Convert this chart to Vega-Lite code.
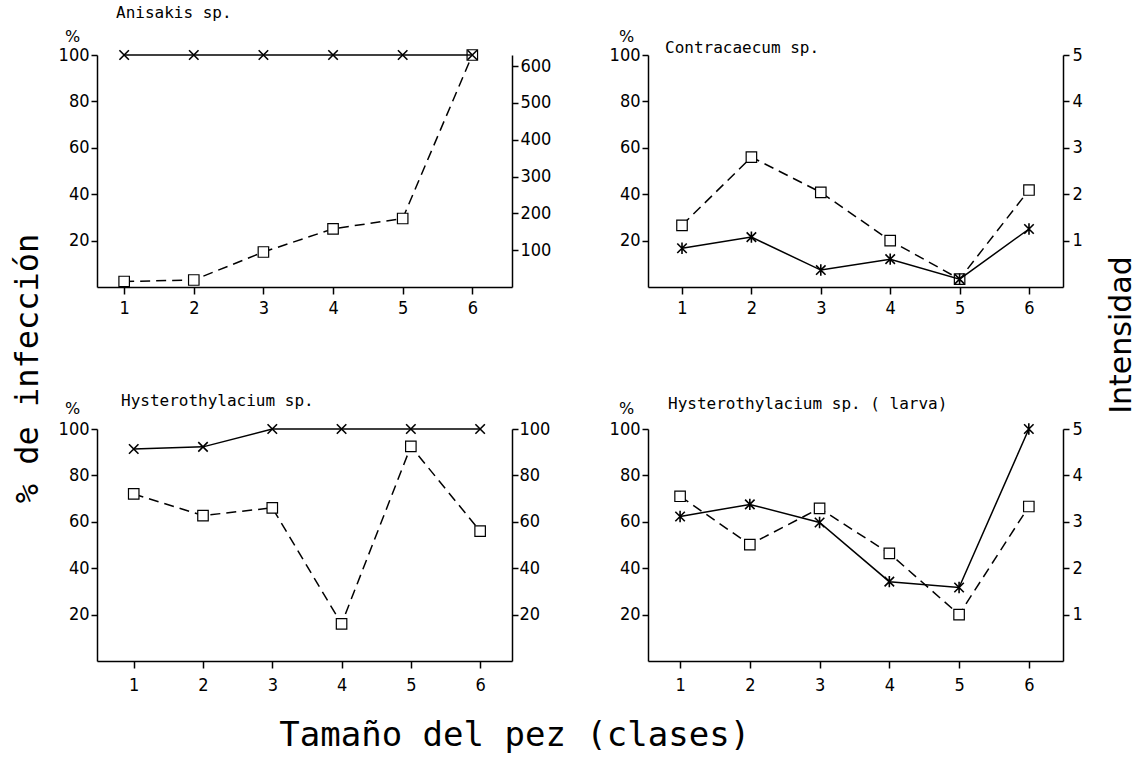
{
  "$schema": "https://vega.github.io/schema/vega-lite/v6.json",
  "background": "white",
  "padding": {"left": 12, "top": 5, "right": 5, "bottom": 3},
  "title": {"text": "Tamaño del  pez (clases)", "orient": "bottom", "anchor": "middle", "font": "DejaVu Sans Mono", "fontSize": 34, "fontWeight": "normal", "color": "black", "offset": 25, "dx": -60},
  "spacing": 58,
  "hconcat": [
    {
      "title": {"text": "% de infección", "orient": "left", "anchor": "middle", "font": "DejaVu Sans Mono", "fontSize": 32, "fontWeight": "normal", "color": "black", "offset": 13, "dx": -19},
      "spacing": 142,
      "bounds": "flush",
      "vconcat": [
        {
          "width": 415, "height": 232,
          "title": {"text": "Anisakis  sp.", "anchor": "start", "frame": "group", "dx": 19, "offset": 7, "font": "DejaVu Sans Mono", "fontSize": 16, "fontWeight": "normal", "color": "black"},
          "data": {"values": [
            {"clase": 1, "pct": 100, "intens": 15},
            {"clase": 2, "pct": 100, "intens": 19},
            {"clase": 3, "pct": 100, "intens": 95},
            {"clase": 4, "pct": 100, "intens": 158},
            {"clase": 5, "pct": 100, "intens": 186},
            {"clase": 6, "pct": 100, "intens": 630}
          ]},
          "encoding": {"x": {"field": "clase", "type": "quantitative", "scale": {"domain": [0.61, 6.57], "nice": false, "zero": false}, "axis": {"values": [1, 2, 3, 4, 5, 6], "format": "d", "title": null}}},
          "layer": [
            {
              "encoding": {"y": {"field": "intens", "type": "quantitative", "scale": {"domain": [0, 630], "nice": false}, "axis": {"orient": "right", "values": [100, 200, 300, 400, 500, 600], "title": null, "labelPadding": 2}}},
              "layer": [
                {"mark": {"type": "line", "color": "black", "strokeWidth": 1.5, "strokeDash": [10, 6]}},
                {"mark": {"type": "point", "shape": "square", "filled": true, "fill": "white", "stroke": "black", "strokeWidth": 1.2, "size": 110, "opacity": 1}}
              ]
            },
            {
              "encoding": {"y": {"field": "pct", "type": "quantitative", "scale": {"domain": [0, 100], "nice": false}, "axis": {"orient": "left", "values": [20, 40, 60, 80, 100], "title": "%", "titleAngle": 0, "titleX": -25, "titleY": -19, "titleAlign": "center", "titleBaseline": "middle"}}},
              "layer": [
                {"mark": {"type": "line", "color": "black", "strokeWidth": 1.5}},
                {"mark": {"type": "point", "shape": "M-1,-1L1,1M-1,1L1,-1", "filled": false, "stroke": "black", "strokeWidth": 1.6, "size": 90, "opacity": 1}}
              ]
            }
          ],
          "resolve": {"scale": {"y": "independent"}}
        },
        {
          "width": 415, "height": 232,
          "title": {"text": "Hysterothylacium  sp.", "anchor": "start", "frame": "group", "dx": 24, "offset": -9, "font": "DejaVu Sans Mono", "fontSize": 16, "fontWeight": "normal", "color": "black"},
          "data": {"values": [
            {"clase": 1, "pct": 91.4, "intens": 72},
            {"clase": 2, "pct": 92.3, "intens": 62.7},
            {"clase": 3, "pct": 100, "intens": 66},
            {"clase": 4, "pct": 100, "intens": 16},
            {"clase": 5, "pct": 100, "intens": 92.5},
            {"clase": 6, "pct": 100, "intens": 56}
          ]},
          "encoding": {"x": {"field": "clase", "type": "quantitative", "scale": {"domain": [0.47, 6.46], "nice": false, "zero": false}, "axis": {"values": [1, 2, 3, 4, 5, 6], "format": "d", "title": null, "labelPadding": 8}}},
          "layer": [
            {
              "encoding": {"y": {"field": "intens", "type": "quantitative", "scale": {"domain": [0, 100], "nice": false}, "axis": {"orient": "right", "values": [20, 40, 60, 80, 100], "title": null, "labelPadding": 1}}},
              "layer": [
                {"mark": {"type": "line", "color": "black", "strokeWidth": 1.5, "strokeDash": [10, 6]}},
                {"mark": {"type": "point", "shape": "square", "filled": true, "fill": "white", "stroke": "black", "strokeWidth": 1.2, "size": 110, "opacity": 1}}
              ]
            },
            {
              "encoding": {"y": {"field": "pct", "type": "quantitative", "scale": {"domain": [0, 100], "nice": false}, "axis": {"orient": "left", "values": [20, 40, 60, 80, 100], "title": "%", "titleAngle": 0, "titleX": -25, "titleY": -21, "titleAlign": "center", "titleBaseline": "middle"}}},
              "layer": [
                {"mark": {"type": "line", "color": "black", "strokeWidth": 1.5}},
                {"mark": {"type": "point", "shape": "M-1,-1L1,1M-1,1L1,-1", "filled": false, "stroke": "black", "strokeWidth": 1.6, "size": 90, "opacity": 1}}
              ]
            }
          ],
          "resolve": {"scale": {"y": "independent"}}
        }
      ]
    },
    {
      "title": {"text": "Intensidad", "orient": "right", "anchor": "middle", "angle": -90, "baseline": "top", "font": "DejaVu Sans", "fontSize": 30, "fontWeight": "normal", "color": "black", "offset": -5, "dx": 26},
      "spacing": 142,
      "bounds": "flush",
      "vconcat": [
        {
          "width": 415, "height": 232,
          "title": {"text": "Contracaecum  sp.", "anchor": "start", "frame": "group", "dx": 17, "offset": -28, "font": "DejaVu Sans Mono", "fontSize": 16, "fontWeight": "normal", "color": "black"},
          "data": {"values": [
            {"clase": 1, "pct": 16.7, "intens": 1.33},
            {"clase": 2, "pct": 21.5, "intens": 2.8},
            {"clase": 3, "pct": 7.3, "intens": 2.04},
            {"clase": 4, "pct": 12, "intens": 1.0},
            {"clase": 5, "pct": 3.4, "intens": 0.17},
            {"clase": 6, "pct": 25, "intens": 2.09}
          ]},
          "encoding": {"x": {"field": "clase", "type": "quantitative", "scale": {"domain": [0.51, 6.49], "nice": false, "zero": false}, "axis": {"values": [1, 2, 3, 4, 5, 6], "format": "d", "title": null}}},
          "layer": [
            {
              "encoding": {"y": {"field": "intens", "type": "quantitative", "scale": {"domain": [0, 5], "nice": false}, "axis": {"orient": "right", "values": [1, 2, 3, 4, 5], "format": "d", "title": null, "labelPadding": 3}}},
              "layer": [
                {"mark": {"type": "line", "color": "black", "strokeWidth": 1.5, "strokeDash": [10, 6]}},
                {"mark": {"type": "point", "shape": "square", "filled": true, "fill": "white", "stroke": "black", "strokeWidth": 1.2, "size": 110, "opacity": 1}}
              ]
            },
            {
              "encoding": {"y": {"field": "pct", "type": "quantitative", "scale": {"domain": [0, 100], "nice": false}, "axis": {"orient": "left", "values": [20, 40, 60, 80, 100], "title": "%", "titleAngle": 0, "titleX": -22, "titleY": -19, "titleAlign": "center", "titleBaseline": "middle"}}},
              "layer": [
                {"mark": {"type": "line", "color": "black", "strokeWidth": 1.5}},
                {"mark": {"type": "point", "shape": "M-1,-1L1,1M-1,1L1,-1M0,-1.2L0,1.2", "filled": false, "stroke": "black", "strokeWidth": 1.6, "size": 90, "opacity": 1}}
              ]
            }
          ],
          "resolve": {"scale": {"y": "independent"}}
        },
        {
          "width": 415, "height": 232,
          "title": {"text": "Hysterothylacium  sp. ( larva)", "anchor": "start", "frame": "group", "dx": 20, "offset": -12, "font": "DejaVu Sans Mono", "fontSize": 16, "fontWeight": "normal", "color": "black"},
          "data": {"values": [
            {"clase": 1, "pct": 62.3, "intens": 3.55},
            {"clase": 2, "pct": 67.5, "intens": 2.51},
            {"clase": 3, "pct": 59.7, "intens": 3.29},
            {"clase": 4, "pct": 34.2, "intens": 2.32},
            {"clase": 5, "pct": 31.7, "intens": 1.0},
            {"clase": 6, "pct": 100, "intens": 3.33}
          ]},
          "encoding": {"x": {"field": "clase", "type": "quantitative", "scale": {"domain": [0.54, 6.49], "nice": false, "zero": false}, "axis": {"values": [1, 2, 3, 4, 5, 6], "format": "d", "title": null, "labelPadding": 8}}},
          "layer": [
            {
              "encoding": {"y": {"field": "intens", "type": "quantitative", "scale": {"domain": [0, 5], "nice": false}, "axis": {"orient": "right", "values": [1, 2, 3, 4, 5], "format": "d", "title": null, "labelPadding": 3}}},
              "layer": [
                {"mark": {"type": "line", "color": "black", "strokeWidth": 1.5, "strokeDash": [10, 6]}},
                {"mark": {"type": "point", "shape": "square", "filled": true, "fill": "white", "stroke": "black", "strokeWidth": 1.2, "size": 110, "opacity": 1}}
              ]
            },
            {
              "encoding": {"y": {"field": "pct", "type": "quantitative", "scale": {"domain": [0, 100], "nice": false}, "axis": {"orient": "left", "values": [20, 40, 60, 80, 100], "title": "%", "titleAngle": 0, "titleX": -22, "titleY": -21, "titleAlign": "center", "titleBaseline": "middle"}}},
              "layer": [
                {"mark": {"type": "line", "color": "black", "strokeWidth": 1.5}},
                {"mark": {"type": "point", "shape": "M-1,-1L1,1M-1,1L1,-1M0,-1.2L0,1.2", "filled": false, "stroke": "black", "strokeWidth": 1.6, "size": 90, "opacity": 1}}
              ]
            }
          ],
          "resolve": {"scale": {"y": "independent"}}
        }
      ]
    }
  ],
  "config": {
    "view": {"stroke": null},
    "axis": {
      "grid": false,
      "domainColor": "black", "domainWidth": 1.5,
      "tickColor": "black", "tickWidth": 1.5, "tickSize": 6,
      "labelColor": "black", "labelFont": "DejaVu Sans Condensed", "labelFontSize": 18,
      "titleColor": "black", "titleFont": "DejaVu Sans", "titleFontSize": 16, "titleFontWeight": "normal"
    },
    "axisX": {"labelPadding": 5, "tickSize": 7}
  }
}
